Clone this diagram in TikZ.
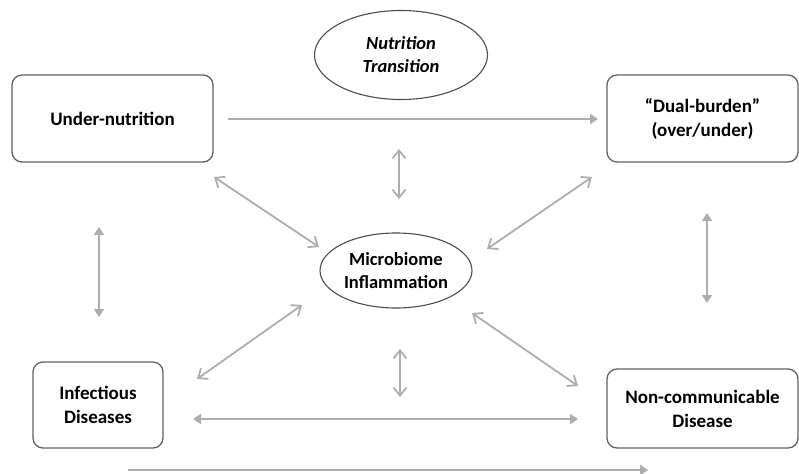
\documentclass[tikz,border=0pt]{standalone}
\usepackage{fontspec}
\setmainfont{Carlito}
\usetikzlibrary{arrows.meta,shapes.geometric}

\begin{document}
\begin{tikzpicture}[x=1pt, y=-1pt,
    box/.style={draw=black!62, line width=1.3pt, rounded corners=10pt, align=center, inner sep=0pt, outer sep=0pt, font=\bfseries\fontsize{19}{24}\selectfont},
    oval/.style={draw=black!70, line width=1.1pt, ellipse, align=center, inner sep=0pt, outer sep=0pt, font=\bfseries\fontsize{18.5}{23}\selectfont},
    link/.style={draw=black!32, line width=1.8pt},
    barb/.style={link, {Straight Barb[length=8pt,width=13pt]}-{Straight Barb[length=8pt,width=13pt]}},
    tri/.style={link, {Triangle[length=8pt,width=10pt]}-{Triangle[length=8pt,width=10pt]}}]
  \useasboundingbox (0,0) rectangle (799,473);
  % boxes and ovals
  \node[box, minimum width=201pt, minimum height=87pt] (U) at (112.5,118.5) {Under-nutrition};
  \node[box, minimum width=191pt, minimum height=87pt] (DB) at (702.5,118.5) {“Dual-burden”\\(over/under)};
  \node[box, minimum width=130pt, minimum height=86pt] (ID) at (98,405) {Infectious\\Diseases};
  \node[box, minimum width=191pt, minimum height=79pt] (NCD) at (702.5,408.5) {Non-communicable\\Disease};
  \node[oval, minimum width=173pt, minimum height=89pt] (NT) at (401,55) {\itshape Nutrition\\\itshape Transition};
  \node[oval, minimum width=152pt, minimum height=75pt] (MI) at (396,270.5) {Microbiome\\Inflammation};
  % arrow ends
  \coordinate (a1) at (228,119);  \coordinate (a2) at (598,119);
  \coordinate (b1) at (399,149);  \coordinate (b2) at (399,199);
  \coordinate (c1) at (214,177);  \coordinate (c2) at (319,247);
  \coordinate (d1) at (592,177);  \coordinate (d2) at (487,249);
  \coordinate (e1) at (99,227);   \coordinate (e2) at (99,317);
  \coordinate (f1) at (707,213);  \coordinate (f2) at (707,303);
  \coordinate (g1) at (302,305);  \coordinate (g2) at (197,379);
  \coordinate (h1) at (472,313);  \coordinate (h2) at (578,386);
  \coordinate (i1) at (400,349);  \coordinate (i2) at (400,397);
  \coordinate (j1) at (193,419);  \coordinate (j2) at (578,419);
  \coordinate (k1) at (128,470);  \coordinate (k2) at (648,470);
  % arrows
  \draw [link, -{Triangle[length=8pt,width=10pt]}] (a1) -- (a2);
  \draw [barb] (b1) -- (b2);
  \draw [barb] (c1) -- (c2);
  \draw [barb] (d1) -- (d2);
  \draw [tri] (e1) -- (e2);
  \draw [tri] (f1) -- (f2);
  \draw [barb] (g1) -- (g2);
  \draw [barb] (h1) -- (h2);
  \draw [barb] (i1) -- (i2);
  \draw [tri] (j1) -- (j2);
  \draw [link, -{Triangle[length=8pt,width=10pt]}] (k1) -- (k2);
\end{tikzpicture}
\end{document}
